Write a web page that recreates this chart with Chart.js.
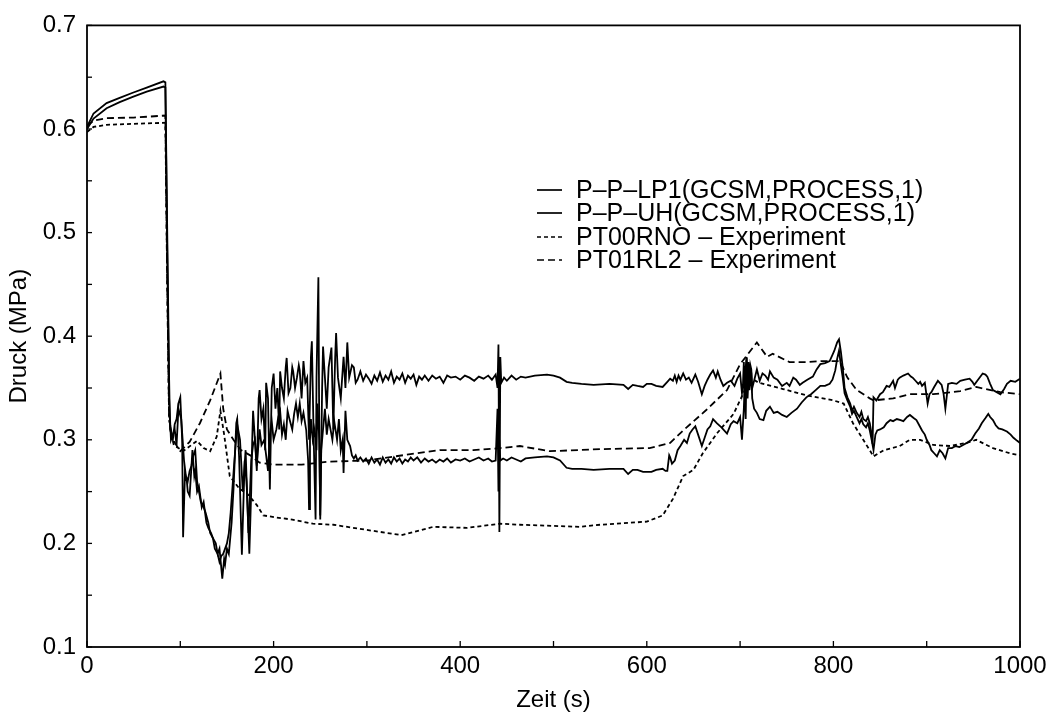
<!DOCTYPE html>
<html>
<head>
<meta charset="utf-8">
<script src="https://cdn.jsdelivr.net/npm/chart.js@4/dist/chart.umd.min.js"></script>
<style>
  html, body { margin: 0; padding: 0; background: #fff; }
  #wrap { width: 1059px; height: 721px; position: relative; }
</style>
</head>
<body>
<div id="wrap"><canvas id="druck"></canvas></div>
<script>
// [Zeit (s), Druck (MPa)] pairs per curve

// Simulation: P-P-LP1
const lp1 = [[0,0.602],[7,0.615],[21,0.625],[35,0.630],[49,0.635],[64,0.640],[82,0.646],[84,0.645],[86,0.500],[88,0.360],[89,0.310],[92,0.300],[94,0.315],[96,0.320],[98,0.335],[100,0.341],[102,0.300],[103,0.206],[105,0.268],[107,0.260],[108,0.250],[110,0.246],[112,0.275],[113,0.290],[115,0.265],[116,0.270],[118,0.250],[120,0.255],[123,0.235],[125,0.240],[128,0.220],[130,0.215],[133,0.210],[135,0.205],[138,0.200],[140,0.190],[142,0.195],[145,0.166],[147,0.185],[148,0.180],[150,0.195],[152,0.190],[155,0.220],[157,0.252],[160,0.316],[161,0.320],[163,0.284],[166,0.189],[168,0.250],[169,0.280],[171,0.260],[174,0.190],[176,0.250],[177,0.297],[178,0.328],[180,0.300],[182,0.270],[184,0.340],[185,0.348],[187,0.320],[189,0.330],[191,0.290],[192,0.355],[194,0.340],[196,0.252],[198,0.350],[200,0.364],[202,0.330],[204,0.350],[206,0.310],[207,0.366],[209,0.350],[211,0.340],[213,0.370],[214,0.379],[216,0.345],[218,0.350],[220,0.370],[221,0.366],[223,0.350],[225,0.360],[227,0.372],[228,0.367],[230,0.340],[232,0.376],[234,0.355],[236,0.360],[238,0.300],[240,0.380],[241,0.395],[243,0.300],[245,0.223],[246,0.360],[248,0.457],[249,0.300],[250,0.223],[252,0.350],[253,0.390],[255,0.360],[257,0.330],[259,0.370],[262,0.389],[263,0.350],[264,0.310],[266,0.380],[267,0.403],[269,0.360],[272,0.340],[275,0.380],[277,0.350],[279,0.394],[281,0.360],[282,0.364],[284,0.372],[286,0.370],[288,0.355],[290,0.358],[293,0.366],[296,0.357],[299,0.363],[302,0.359],[305,0.354],[308,0.362],[311,0.357],[314,0.365],[317,0.356],[320,0.362],[323,0.358],[326,0.366],[329,0.355],[332,0.361],[335,0.358],[338,0.364],[341,0.355],[344,0.362],[347,0.359],[350,0.363],[353,0.353],[356,0.361],[359,0.358],[362,0.362],[366,0.357],[370,0.362],[374,0.359],[378,0.361],[382,0.355],[386,0.362],[390,0.360],[395,0.361],[400,0.358],[405,0.362],[410,0.360],[415,0.357],[420,0.361],[425,0.359],[430,0.362],[434,0.358],[438,0.363],[440,0.350],[441,0.392],[442,0.211],[443,0.380],[444,0.355],[447,0.360],[450,0.357],[455,0.362],[460,0.358],[465,0.361],[470,0.360],[480,0.362],[493,0.363],[500,0.362],[507,0.360],[514,0.356],[520,0.355],[530,0.354],[543,0.353],[560,0.354],[575,0.353],[580,0.349],[585,0.353],[590,0.352],[596,0.351],[600,0.354],[605,0.354],[610,0.352],[617,0.351],[622,0.356],[625,0.359],[628,0.357],[630,0.362],[632,0.356],[634,0.362],[636,0.358],[639,0.364],[642,0.358],[645,0.360],[648,0.355],[652,0.363],[655,0.356],[659,0.344],[662,0.352],[665,0.358],[668,0.363],[671,0.367],[674,0.360],[676,0.366],[679,0.358],[682,0.352],[686,0.355],[690,0.357],[694,0.352],[697,0.359],[700,0.364],[702,0.345],[703,0.352],[704,0.375],[705,0.340],[706,0.370],[707,0.380],[708,0.350],[709,0.375],[710,0.355],[711,0.372],[712,0.368],[713,0.350],[715,0.357],[718,0.368],[721,0.357],[724,0.364],[727,0.362],[730,0.358],[732,0.366],[736,0.360],[740,0.358],[745,0.352],[750,0.355],[753,0.352],[757,0.360],[760,0.358],[764,0.353],[767,0.355],[772,0.358],[778,0.361],[782,0.368],[786,0.373],[791,0.374],[796,0.376],[799,0.382],[801,0.386],[804,0.394],[806,0.397],[808,0.385],[810,0.370],[812,0.350],[815,0.341],[818,0.335],[820,0.328],[822,0.332],[825,0.326],[828,0.322],[830,0.327],[832,0.320],[835,0.318],[837,0.322],[839,0.316],[841,0.305],[842,0.296],[843,0.341],[846,0.338],[850,0.344],[853,0.346],[857,0.352],[860,0.351],[864,0.357],[866,0.350],[869,0.358],[871,0.360],[875,0.362],[880,0.364],[883,0.361],[885,0.360],[888,0.357],[891,0.354],[893,0.356],[895,0.352],[898,0.355],[901,0.335],[903,0.344],[905,0.346],[908,0.351],[912,0.357],[914,0.355],[916,0.353],[918,0.345],[920,0.330],[923,0.354],[927,0.355],[932,0.354],[936,0.357],[941,0.358],[946,0.359],[949,0.356],[951,0.353],[955,0.358],[960,0.364],[963,0.363],[965,0.361],[968,0.354],[971,0.348],[975,0.346],[979,0.344],[983,0.349],[986,0.354],[990,0.357],[995,0.356],[1000,0.359]];

// Simulation: P-P-UH
const uh = [[0,0.600],[7,0.610],[21,0.620],[35,0.626],[49,0.631],[64,0.636],[82,0.641],[84,0.640],[86,0.480],[88,0.340],[90,0.300],[92,0.305],[94,0.310],[96,0.295],[98,0.330],[101,0.320],[104,0.280],[106,0.265],[108,0.260],[110,0.270],[112,0.275],[114,0.285],[116,0.290],[118,0.260],[120,0.250],[122,0.240],[125,0.235],[127,0.230],[130,0.220],[132,0.210],[135,0.205],[137,0.195],[140,0.190],[142,0.182],[144,0.188],[146,0.190],[148,0.195],[150,0.200],[152,0.210],[154,0.230],[156,0.255],[158,0.280],[161,0.315],[164,0.300],[167,0.250],[170,0.290],[173,0.210],[176,0.280],[178,0.295],[180,0.300],[182,0.275],[185,0.310],[187,0.295],[190,0.300],[192,0.285],[194,0.270],[196,0.305],[198,0.318],[200,0.300],[203,0.310],[205,0.322],[207,0.328],[209,0.305],[211,0.315],[213,0.300],[215,0.328],[217,0.320],[220,0.310],[222,0.325],[224,0.335],[226,0.322],[228,0.335],[230,0.318],[232,0.326],[235,0.309],[237,0.280],[238,0.233],[239,0.300],[240,0.320],[242,0.300],[244,0.310],[246,0.290],[247,0.335],[249,0.300],[250,0.227],[251,0.290],[253,0.310],[255,0.330],[257,0.305],[259,0.320],[261,0.310],[263,0.300],[265,0.318],[268,0.300],[270,0.320],[272,0.290],[274,0.300],[275,0.268],[277,0.328],[279,0.300],[282,0.294],[284,0.285],[286,0.282],[288,0.285],[290,0.280],[293,0.283],[296,0.279],[299,0.282],[302,0.277],[305,0.283],[308,0.278],[311,0.281],[314,0.276],[317,0.283],[320,0.278],[323,0.281],[326,0.277],[329,0.283],[332,0.279],[335,0.282],[338,0.277],[341,0.281],[344,0.279],[347,0.283],[350,0.280],[354,0.283],[358,0.278],[362,0.282],[366,0.279],[370,0.281],[374,0.278],[378,0.281],[382,0.279],[386,0.282],[390,0.278],[395,0.281],[400,0.280],[405,0.282],[410,0.279],[415,0.281],[420,0.283],[425,0.280],[430,0.282],[434,0.279],[438,0.280],[440,0.330],[441,0.250],[442,0.300],[443,0.280],[446,0.282],[450,0.280],[455,0.283],[460,0.281],[465,0.279],[470,0.282],[480,0.283],[493,0.284],[500,0.283],[507,0.280],[514,0.273],[520,0.272],[530,0.272],[543,0.271],[560,0.272],[575,0.272],[580,0.267],[585,0.271],[590,0.271],[596,0.269],[605,0.269],[610,0.271],[617,0.272],[620,0.270],[622,0.270],[624,0.285],[625,0.283],[627,0.277],[630,0.280],[633,0.290],[636,0.294],[640,0.300],[643,0.297],[646,0.306],[649,0.310],[652,0.313],[655,0.305],[659,0.294],[662,0.302],[665,0.310],[668,0.313],[671,0.320],[675,0.316],[680,0.312],[686,0.306],[690,0.315],[693,0.318],[697,0.316],[700,0.322],[702,0.300],[704,0.330],[705,0.355],[706,0.320],[707,0.379],[708,0.340],[709,0.360],[710,0.348],[712,0.365],[713,0.340],[715,0.330],[718,0.326],[721,0.320],[725,0.319],[728,0.328],[732,0.332],[736,0.326],[740,0.327],[745,0.324],[750,0.322],[755,0.326],[761,0.330],[766,0.336],[771,0.341],[776,0.344],[781,0.348],[786,0.352],[791,0.352],[796,0.354],[799,0.358],[802,0.367],[804,0.378],[806,0.386],[808,0.372],[810,0.360],[812,0.345],[815,0.338],[818,0.332],[820,0.325],[822,0.328],[825,0.322],[828,0.316],[830,0.320],[832,0.315],[835,0.312],[837,0.316],[839,0.309],[841,0.300],[843,0.290],[845,0.305],[847,0.309],[850,0.310],[854,0.312],[857,0.316],[861,0.319],[864,0.318],[868,0.320],[872,0.319],[875,0.318],[879,0.322],[882,0.324],[886,0.321],[889,0.319],[892,0.314],[895,0.309],[898,0.305],[900,0.300],[903,0.295],[905,0.290],[908,0.287],[911,0.284],[914,0.290],[917,0.287],[920,0.282],[923,0.292],[927,0.292],[931,0.294],[935,0.293],[939,0.295],[943,0.297],[948,0.300],[952,0.306],[956,0.311],[959,0.316],[963,0.321],[966,0.325],[968,0.322],[971,0.319],[974,0.314],[977,0.311],[981,0.310],[986,0.308],[990,0.305],[993,0.302],[997,0.299],[1000,0.297]];

// Messung: PT00RNO
const rno = [[0,0.597],[7,0.602],[21,0.604],[50,0.605],[84,0.606],[86,0.450],[88,0.320],[93,0.295],[103,0.289],[118,0.299],[125,0.292],[132,0.289],[139,0.303],[143,0.328],[147,0.305],[153,0.265],[164,0.252],[170,0.250],[182,0.237],[189,0.227],[203,0.225],[220,0.223],[242,0.219],[264,0.218],[300,0.213],[337,0.208],[371,0.216],[407,0.215],[443,0.219],[464,0.218],[528,0.216],[550,0.218],[600,0.221],[617,0.227],[628,0.243],[639,0.265],[650,0.271],[660,0.287],[675,0.306],[693,0.325],[703,0.344],[711,0.360],[720,0.355],[746,0.349],[771,0.343],[800,0.338],[811,0.335],[821,0.316],[832,0.300],[843,0.284],[854,0.290],[871,0.294],[882,0.300],[893,0.300],[907,0.295],[925,0.294],[943,0.297],[953,0.300],[971,0.292],[989,0.287],[1000,0.285]];

// Messung: PT01RL2
const rl2 = [[0,0.603],[7,0.608],[21,0.6105],[50,0.611],[84,0.613],[86,0.450],[88,0.320],[92,0.300],[100,0.289],[110,0.298],[121,0.316],[132,0.338],[143,0.364],[146,0.330],[150,0.310],[157,0.300],[165,0.290],[175,0.285],[185,0.278],[200,0.276],[230,0.276],[260,0.279],[300,0.280],[353,0.287],[378,0.290],[414,0.290],[443,0.292],[464,0.294],[496,0.289],[550,0.291],[603,0.292],[625,0.297],[639,0.309],[664,0.329],[686,0.348],[700,0.373],[718,0.394],[729,0.380],[735,0.383],[753,0.375],[771,0.375],[789,0.376],[807,0.376],[815,0.360],[825,0.348],[839,0.340],[843,0.338],[864,0.340],[882,0.344],[907,0.344],[936,0.347],[953,0.351],[979,0.346],[1000,0.344]];

const seriesNames = ['P\u2013P\u2013LP1(GCSM,PROCESS,1)', 'P\u2013P\u2013UH(GCSM,PROCESS,1)', 'PT00RNO \u2013 Experiment', 'PT01RL2 \u2013 Experiment'];
const dashes = [[], [], [4, 3], [7, 4]];

const FONT = '"Liberation Sans", Arial, Helvetica, sans-serif';

// frame, inward ticks and the legend box inside the plot
const framePlugin = {
  id: 'frame',
  afterDraw(chart) {
    const { ctx, chartArea: a, scales } = chart;
    ctx.save();
    ctx.strokeStyle = '#000';
    ctx.lineWidth = 1.8;
    ctx.strokeRect(a.left, a.top, a.right - a.left, a.bottom - a.top);

    ctx.lineWidth = 1.3;
    scales.x.ticks.forEach(tk => {
      const px = scales.x.getPixelForValue(tk.value);
      ctx.beginPath();
      ctx.moveTo(px, a.bottom);
      ctx.lineTo(px, a.bottom - 6);
      ctx.stroke();
    });
    scales.y.ticks.forEach(tk => {
      const py = scales.y.getPixelForValue(tk.value);
      ctx.beginPath();
      ctx.moveTo(a.left, py);
      ctx.lineTo(a.left + 5, py);
      ctx.stroke();
    });

    // legend
    const lx = 537, tx = 576, rows = [190, 213, 237, 260];
    ctx.font = '25px ' + FONT;
    ctx.fillStyle = '#000';
    ctx.textBaseline = 'middle';
    seriesNames.forEach((name, i) => {
      ctx.setLineDash(dashes[i]);
      ctx.lineWidth = 1.7;
      ctx.beginPath();
      ctx.moveTo(lx, rows[i]);
      ctx.lineTo(lx + 25, rows[i]);
      ctx.stroke();
      ctx.setLineDash([]);
      ctx.fillText(name, tx, rows[i] + 1);
    });
    ctx.restore();
  }
};

const mkSet = (i, pairs) => ({
  label: seriesNames[i],
  data: pairs.map(([t, p]) => ({ x: t, y: p })),
  borderColor: '#000',
  borderWidth: 1.8,
  borderDash: dashes[i],
  pointRadius: 0,
  tension: 0,
  fill: false
});

new Chart(document.getElementById('druck'), {
  type: 'line',
  data: {
    datasets: [mkSet(0, lp1), mkSet(1, uh), mkSet(2, rno), mkSet(3, rl2)]
  },
  options: {
    responsive: true,
    maintainAspectRatio: false,
    animation: false,
    layout: { padding: { left: 0, right: 39, top: 17, bottom: 0 } },
    plugins: {
      legend: { display: false },
      tooltip: { enabled: false }
    },
    scales: {
      x: {
        type: 'linear',
        min: 0,
        max: 1000,
        border: { display: false },
        grid: { display: false, drawTicks: false },
        ticks: {
          stepSize: 100,
          padding: 5,
          color: '#000',
          font: { family: FONT, size: 24 },
          maxRotation: 0,
          autoSkip: false,
          callback: v => (v % 200 === 0 ? String(v) : '')
        },
        title: {
          display: true,
          text: 'Zeit (s)',
          color: '#000',
          font: { family: FONT, size: 24 },
          padding: { top: 4, bottom: 6 }
        },
        afterFit: s => { s.height = 74; }
      },
      y: {
        min: 0.1,
        max: 0.7,
        border: { display: false },
        grid: { display: false, drawTicks: false },
        ticks: {
          stepSize: 0.05,
          padding: 11,
          color: '#000',
          font: { family: FONT, size: 24 },
          autoSkip: false,
          callback: v => {
            const r = Math.round(v * 10);
            return Math.abs(v * 10 - r) < 1e-6 ? (r / 10).toFixed(1) : '';
          }
        },
        title: {
          display: true,
          text: 'Druck (MPa)',
          color: '#000',
          font: { family: FONT, size: 24 },
          padding: { top: 5, bottom: 2 }
        },
        afterFit: s => { s.width = 87; }
      }
    }
  },
  plugins: [framePlugin]
});
</script>
</body>
</html>
